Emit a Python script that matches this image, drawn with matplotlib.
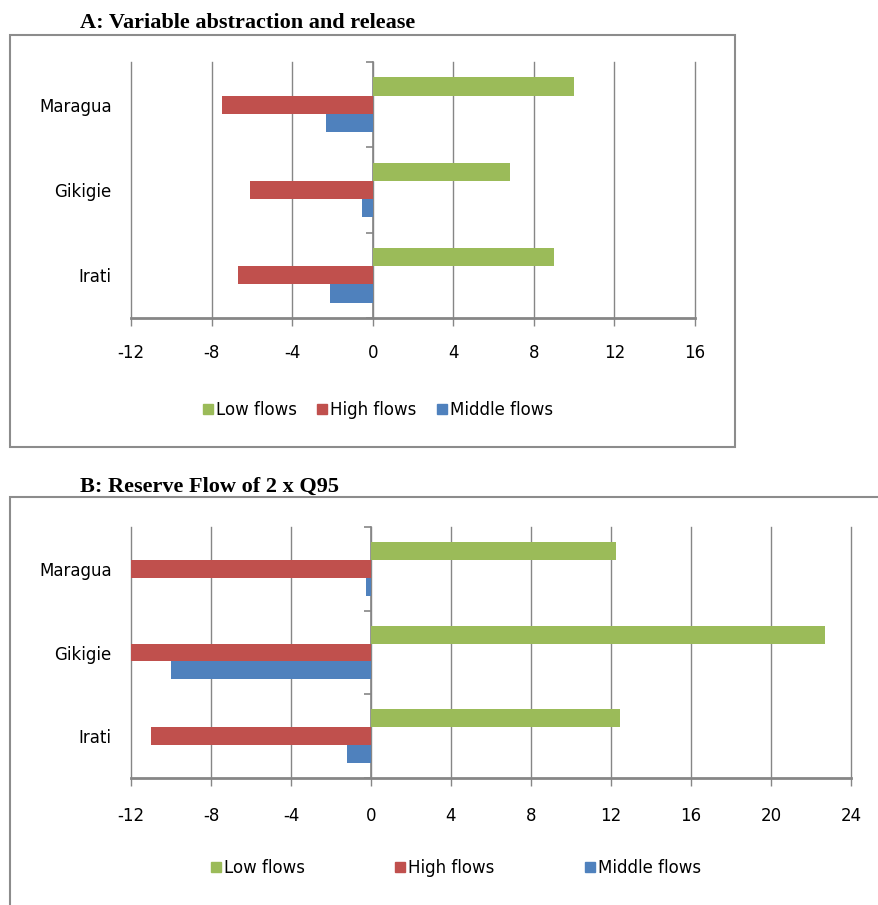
import matplotlib.pyplot as plt
import numpy as np
from matplotlib.patches import Rectangle

# catchments, bottom to top as drawn
catchments = ["Irati", "Gikigie", "Maragua"]
series = ["Low flows", "High flows", "Middle flows"]
colors = ["#9BBB59", "#C0504D", "#4F81BD"]

# A: variable abstraction and release
a_low = [9.0, 6.8, 10.0]
a_high = [-6.7, -6.1, -7.5]
a_mid = [-2.1, -0.55, -2.3]
a_ticks = [-12, -8, -4, 0, 4, 8, 12, 16]

# B: reserve flow of 2 x Q95
b_low = [12.45, 22.7, 12.25]
b_high = [-11.0, -12.0, -12.0]
b_mid = [-1.2, -10.0, -0.27]
b_ticks = [-12, -8, -4, 0, 4, 8, 12, 16, 20, 24]

W, H = 879, 905
grid_col = "#868686"
label_font = "DejaVu Sans"
fs = 12

fig = plt.figure(figsize=(W / 100, H / 100), dpi=100)


def px_axes(left, top, right, bottom):
    return fig.add_axes([left / W, 1 - bottom / H, (right - left) / W, (bottom - top) / H])


def draw_panel(ax, low, high, mid, ticks, tick_pad):
    y = np.arange(len(catchments))
    h = 0.213
    for vals, off, c in zip([low, high, mid], [h, 0, -h], colors):
        ax.barh(y + off, vals, height=h, color=c, zorder=3)
    ax.set_xlim(ticks[0], ticks[-1])
    ax.set_ylim(-0.5, len(catchments) - 0.5)
    ax.set_xticks(ticks)
    ax.set_xticklabels([str(t) for t in ticks], fontsize=fs, family=label_font)
    ax.tick_params(axis="x", length=6, width=1, color=grid_col, pad=tick_pad)
    ax.grid(axis="x", color=grid_col, linewidth=1.0, zorder=0)
    for gl in ax.get_xgridlines():
        gl.set_clip_on(False)
    ax.set_yticks(y)
    ax.set_yticklabels(catchments, fontsize=fs, family=label_font)
    ax.tick_params(axis="y", length=0, pad=14)
    for s in ["top", "right", "left"]:
        ax.spines[s].set_visible(False)
    ax.spines["bottom"].set_color(grid_col)
    ax.spines["bottom"].set_linewidth(2.0)
    # category axis sits on zero
    frac = (0 - ticks[0]) / (ticks[-1] - ticks[0])
    sec = ax.secondary_yaxis(frac)
    sec.set_yticks(np.arange(-0.5, len(catchments), 1.0))
    sec.set_yticklabels([])
    sec.tick_params(length=5, width=1.2, color=grid_col, direction="out")
    sec.spines["left"].set_color(grid_col)
    sec.spines["left"].set_linewidth(1.2)


axA = px_axes(131, 62, 695, 318)
draw_panel(axA, a_low, a_high, a_mid, a_ticks, 13)

axB = px_axes(131, 527, 851, 778)
draw_panel(axB, b_low, b_high, b_mid, b_ticks, 15)

# chart borders
fig.add_artist(Rectangle((10 / W, 1 - 447 / H), 725 / W, 412 / H, transform=fig.transFigure,
                         fill=False, edgecolor="#8C8C8C", linewidth=1.5))
fig.add_artist(Rectangle((10 / W, -0.01), 1.0, 1 - 497 / H + 0.01, transform=fig.transFigure,
                         fill=False, edgecolor="#8C8C8C", linewidth=1.5))

# titles
fig.text(80 / W, 1 - 28 / H, "A: Variable abstraction and release", family="Liberation Serif",
         weight="bold", fontsize=16, va="baseline")
fig.text(80 / W, 1 - 492 / H, "B: Reserve Flow of 2 x Q95", family="Liberation Serif",
         weight="bold", fontsize=16, va="baseline")

# legends
handles = [plt.Line2D([], [], marker="s", linestyle="none", markersize=7, color=c) for c in colors]
fig.legend(handles, series, loc="center", bbox_to_anchor=(378 / W, 1 - 410 / H), ncol=3,
           frameon=False, handlelength=0.6, handletextpad=0.2, columnspacing=1.2,
           prop={"family": label_font, "size": fs})
fig.legend(handles, series, loc="center", bbox_to_anchor=(456 / W, 1 - 868 / H), ncol=3,
           frameon=False, handlelength=0.6, handletextpad=0.2, columnspacing=5.4,
           prop={"family": label_font, "size": fs})

fig.savefig("out.png", dpi=100)
